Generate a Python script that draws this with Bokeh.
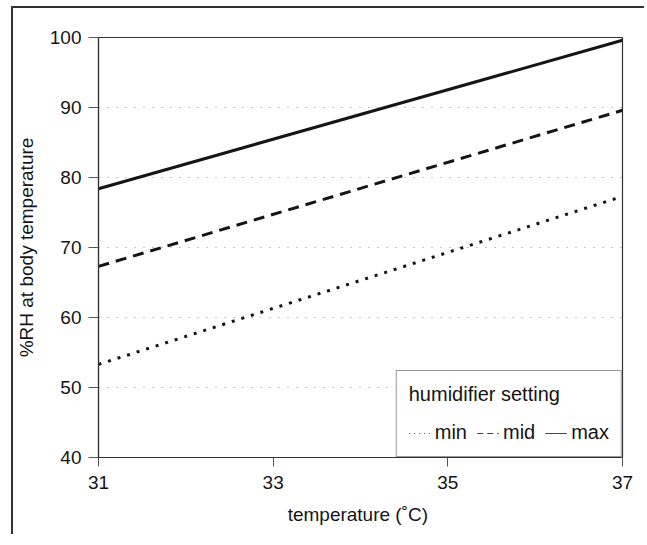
from bokeh.plotting import figure
from bokeh.models import Range1d, FixedTicker, Legend, LegendItem
from bokeh.embed import file_html
from bokeh.resources import INLINE

# ---- data ----
temperature = [31, 37]
rh_min = [53.3, 77.3]
rh_mid = [67.3, 89.6]
rh_max = [78.4, 99.6]
x_ticks = [31, 33, 35, 37]
y_ticks = [40, 50, 60, 70, 80, 90, 100]
series_labels = ["min", "mid", "max"]

FONT = "Liberation Sans"
INK = "#151515"
NAN = float("nan")

p = figure(width=644, height=534, output_backend="svg", toolbar_location=None,
           x_range=Range1d(31, 37), y_range=Range1d(40, 100),
           min_border_left=98, min_border_right=22, min_border_top=37, min_border_bottom=77)

# outer page frame: only top and left edges are visible in the reference
p.styles = {
    "background-color": "white",
    "background-image": "linear-gradient(#333333, #333333), linear-gradient(#333333, #333333)",
    "background-position": "11px 6px, 11px 6px",
    "background-size": "2px 100%, 100% 2px",
    "background-repeat": "no-repeat, no-repeat",
}

p.outline_line_color = "#333333"
p.outline_line_width = 1.2
p.background_fill_color = "white"
p.border_fill_color = "white"
p.border_fill_alpha = 0

# axes
p.xaxis.ticker = FixedTicker(ticks=x_ticks)
p.yaxis.ticker = FixedTicker(ticks=y_ticks)
for ax in (p.xaxis[0], p.yaxis[0]):
    ax.axis_line_color = "#333333"
    ax.axis_line_width = 1.2
    ax.major_tick_line_color = "#555555"
    ax.major_tick_line_width = 1
    ax.major_tick_in = 0
    ax.minor_tick_line_color = None
    ax.major_label_text_font = FONT
    ax.major_label_text_font_size = "19px"
    ax.major_label_text_color = INK
    ax.axis_label_text_font = FONT
    ax.axis_label_text_font_size = "19px"
    ax.axis_label_text_font_style = "normal"
    ax.axis_label_text_color = INK
p.yaxis.major_tick_out = 10
p.xaxis.major_tick_out = 9
p.yaxis.major_label_standoff = 7
p.xaxis.major_label_standoff = 9
p.yaxis.axis_label = "%RH at body temperature"
p.xaxis.axis_label = "temperature  (\u02daC)"
p.yaxis.axis_label_standoff = 10
p.xaxis.axis_label_standoff = 12

# grid
p.xgrid.grid_line_color = None
p.ygrid.ticker = FixedTicker(ticks=[50, 60, 70, 80, 90])
p.ygrid.grid_line_color = "#888888"
p.ygrid.grid_line_dash = "1 8"
p.ygrid.grid_line_width = 1

# data lines
p.line(temperature, rh_min, line_color=INK, line_width=3, line_dash="3 7")
p.line(temperature, rh_mid, line_color=INK, line_width=3, line_dash="11 7")
p.line(temperature, rh_max, line_color=INK, line_width=3)

# legend samples (thin)
leg_min = p.line([NAN], [NAN], line_color="#444444", line_width=1, line_dash="1 4")
leg_mid = p.line([NAN], [NAN], line_color="#444444", line_width=1, line_dash="6 4")
leg_max = p.line([NAN], [NAN], line_color="#444444", line_width=1)

legend = Legend(items=[LegendItem(label=series_labels[0], renderers=[leg_min]),
                       LegendItem(label=series_labels[1], renderers=[leg_mid]),
                       LegendItem(label=series_labels[2], renderers=[leg_max])],
                location="bottom_right", orientation="horizontal",
                title="humidifier setting")
legend.margin = 0
legend.padding = 12
legend.spacing = 10
legend.glyph_width = 22
legend.glyph_height = 20
legend.label_standoff = 4
legend.title_standoff = 15
legend.title_text_font = FONT
legend.title_text_font_size = "20px"
legend.title_text_font_style = "normal"
legend.title_text_color = INK
legend.label_text_font = FONT
legend.label_text_font_size = "20px"
legend.label_text_color = INK
legend.border_line_color = "#333333"
legend.border_line_width = 1
legend.background_fill_color = "white"
legend.background_fill_alpha = 1
p.add_layout(legend, "center")

open("out.html", "w").write(file_html(p, INLINE))
